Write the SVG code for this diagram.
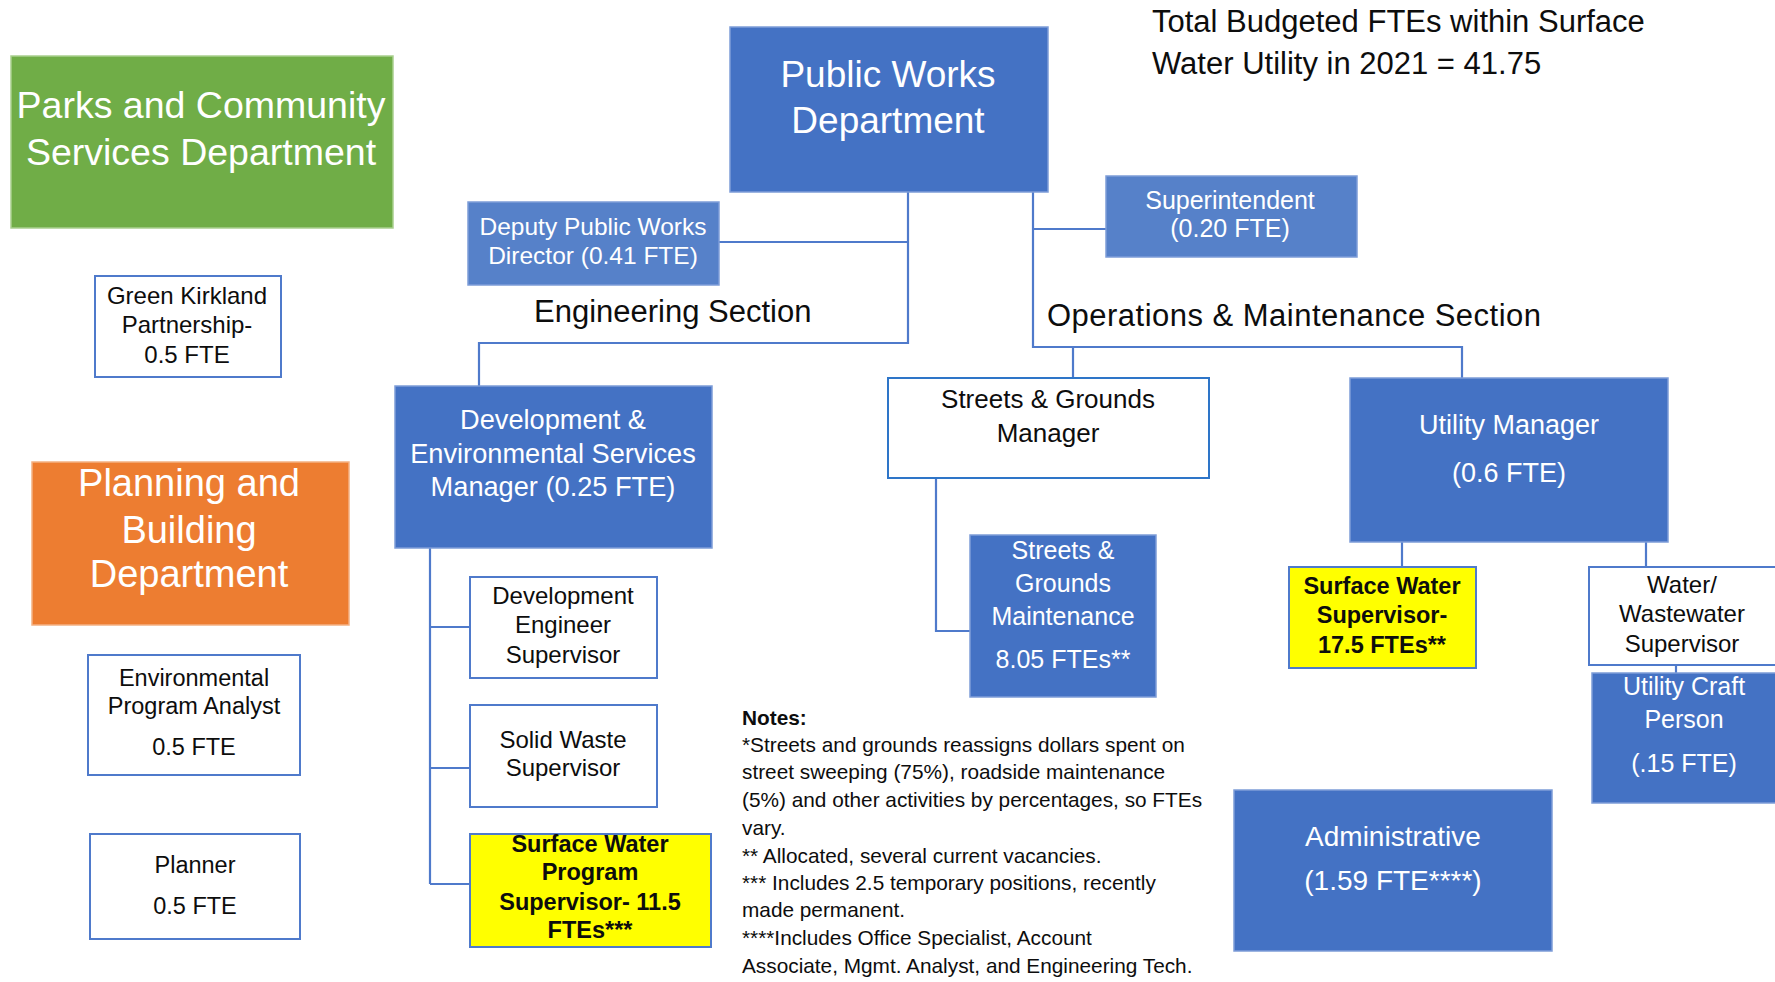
<svg xmlns="http://www.w3.org/2000/svg" width="1775" height="982" viewBox="0 0 1775 982">
<style>
text{font-family:"Liberation Sans",Arial,sans-serif;}
.c{text-anchor:middle;}
.w{fill:#ffffff;}
.k{fill:#0d0d0d;}
.b{font-weight:bold;}
.blue{fill:#4472C4;stroke:#7E9DD8;stroke-width:1.5;}
.blue2{fill:#5681C9;stroke:#7E9DD8;stroke-width:1.5;}
.wht{fill:#ffffff;stroke:#4F7ACB;stroke-width:2;}
.yel{fill:#FFFF00;stroke:#4F7ACB;stroke-width:2;}
.con{fill:none;stroke:#4F7ACB;stroke-width:2.2;}
</style>
<rect width="1775" height="982" fill="#ffffff"/>
<g id="connectors">
<path class="con" d="M908,192 V343 H479 V386"/>
<path class="con" d="M719,242 H908"/>
<path class="con" d="M1033,192 V347 H1462 V378"/>
<path class="con" d="M1033,229 H1106"/>
<path class="con" d="M1073,347 V378"/>
<path class="con" d="M430,548 V884"/>
<path class="con" d="M430,627 H470 M430,768 H470 M430,884 H470"/>
<path class="con" d="M936,478 V631 H970"/>
<path class="con" d="M1402,542 V567 M1646,542 V567"/>
<path class="con" d="M1676,665 V673"/>
</g>
<g id="parks">
<rect x="11" y="56" width="382" height="172" fill="#70AD47" stroke="#A9D08E" stroke-width="1.5"/>
<text class="c w" x="201" y="118" font-size="37.5">Parks and Community</text>
<text class="c w" x="201" y="165" font-size="37.5">Services  Department</text>
</g>
<g id="green-kirkland">
<rect class="wht" x="95" y="276" width="186" height="101"/>
<text class="c k" x="187" y="304" font-size="24">Green Kirkland</text>
<text class="c k" x="187" y="333" font-size="24">Partnership-</text>
<text class="c k" x="187" y="363" font-size="24">0.5 FTE</text>
</g>
<g id="planning">
<rect x="32" y="462" width="317" height="163" fill="#ED7D31" stroke="#F4B183" stroke-width="1.5"/>
<text class="c w" x="189" y="496" font-size="38">Planning and</text>
<text class="c w" x="189" y="543" font-size="38">Building</text>
<text class="c w" x="189" y="587" font-size="38">Department</text>
</g>
<g id="env-analyst">
<rect class="wht" x="88" y="655" width="212" height="120"/>
<text class="c k" x="194" y="686" font-size="23.5">Environmental</text>
<text class="c k" x="194" y="714" font-size="23.5">Program Analyst</text>
<text class="c k" x="194" y="755" font-size="23.5">0.5 FTE</text>
</g>
<g id="planner">
<rect class="wht" x="90" y="834" width="210" height="105"/>
<text class="c k" x="195" y="873" font-size="23.5">Planner</text>
<text class="c k" x="195" y="914" font-size="23.5">0.5 FTE</text>
</g>
<g id="public-works">
<rect class="blue" x="730" y="27" width="318" height="165"/>
<text class="c w" x="888" y="87" font-size="37">Public Works</text>
<text class="c w" x="888" y="133" font-size="37">Department</text>
</g>
<g id="title">
<text class="k" x="1152" y="32" font-size="31">Total Budgeted FTEs within Surface</text>
<text class="k" x="1152" y="74" font-size="31">Water Utility in 2021 = 41.75</text>
</g>
<g id="deputy">
<rect class="blue2" x="468" y="202" width="251" height="83"/>
<text class="c w" x="593" y="235" font-size="24.5">Deputy Public Works</text>
<text class="c w" x="593" y="264" font-size="24.5">Director (0.41 FTE)</text>
</g>
<g id="superintendent">
<rect class="blue2" x="1106" y="176" width="251" height="81"/>
<text class="c w" x="1230" y="209" font-size="25">Superintendent</text>
<text class="c w" x="1230" y="237" font-size="25">(0.20 FTE)</text>
</g>
<g id="engineering-section">
<text class="k" x="534" y="322" font-size="31">Engineering Section</text>
</g>
<g id="operations-section">
<text class="k" x="1047" y="326" font-size="31" textLength="494" lengthAdjust="spacing">Operations &amp; Maintenance Section</text>
</g>
<g id="dev-env-manager">
<rect class="blue" x="395" y="386" width="317" height="162"/>
<text class="c w" x="553" y="429" font-size="27.2">Development  &amp;</text>
<text class="c w" x="553" y="463" font-size="27.2">Environmental  Services</text>
<text class="c w" x="553" y="496" font-size="27.2">Manager (0.25 FTE)</text>
</g>
<g id="dev-eng-supervisor">
<rect class="wht" x="470" y="577" width="187" height="101"/>
<text class="c k" x="563" y="604" font-size="24">Development</text>
<text class="c k" x="563" y="633" font-size="24">Engineer</text>
<text class="c k" x="563" y="663" font-size="24">Supervisor</text>
</g>
<g id="solid-waste">
<rect class="wht" x="470" y="705" width="187" height="102"/>
<text class="c k" x="563" y="748" font-size="24">Solid Waste</text>
<text class="c k" x="563" y="776" font-size="24">Supervisor</text>
</g>
<g id="sw-program-supervisor">
<rect class="yel" x="470" y="834" width="241" height="113"/>
<text class="c k b" x="590" y="852" font-size="23.5">Surface Water</text>
<text class="c k b" x="590" y="880" font-size="23.5">Program</text>
<text class="c k b" x="590" y="910" font-size="23.5">Supervisor- 11.5</text>
<text class="c k b" x="590" y="938" font-size="23.5">FTEs***</text>
</g>
<g id="streets-grounds-manager">
<rect x="888" y="378" width="321" height="100" fill="#ffffff" stroke="#2E75C8" stroke-width="2"/>
<text class="c k" x="1048" y="408" font-size="26">Streets  &amp; Grounds</text>
<text class="c k" x="1048" y="442" font-size="26">Manager</text>
</g>
<g id="streets-grounds-maintenance">
<rect class="blue" x="970" y="535" width="186" height="162"/>
<text class="c w" x="1063" y="559" font-size="25">Streets &amp;</text>
<text class="c w" x="1063" y="592" font-size="25">Grounds</text>
<text class="c w" x="1063" y="625" font-size="25">Maintenance</text>
<text class="c w" x="1063" y="668" font-size="25">8.05 FTEs**</text>
</g>
<g id="utility-manager">
<rect class="blue" x="1350" y="378" width="318" height="164"/>
<text class="c w" x="1509" y="434" font-size="27">Utility Manager</text>
<text class="c w" x="1509" y="482" font-size="27">(0.6 FTE)</text>
</g>
<g id="surface-water-supervisor">
<rect class="yel" x="1289" y="567" width="187" height="101"/>
<text class="c k b" x="1382" y="594" font-size="23.5">Surface Water</text>
<text class="c k b" x="1382" y="623" font-size="23.5">Supervisor-</text>
<text class="c k b" x="1382" y="653" font-size="23.5">17.5 FTEs**</text>
</g>
<g id="water-wastewater-supervisor">
<rect class="wht" x="1589" y="567" width="190" height="98"/>
<text class="c k" x="1682" y="593" font-size="24">Water/</text>
<text class="c k" x="1682" y="622" font-size="24">Wastewater</text>
<text class="c k" x="1682" y="652" font-size="24">Supervisor</text>
</g>
<g id="utility-craft-person">
<rect class="blue" x="1592" y="673" width="188" height="130"/>
<text class="c w" x="1684" y="695" font-size="25">Utility Craft</text>
<text class="c w" x="1684" y="728" font-size="25">Person</text>
<text class="c w" x="1684" y="772" font-size="25">(.15 FTE)</text>
</g>
<g id="administrative">
<rect class="blue" x="1234" y="790" width="318" height="161"/>
<text class="c w" x="1393" y="846" font-size="28">Administrative</text>
<text class="c w" x="1393" y="890" font-size="28">(1.59 FTE****)</text>
</g>
<g id="notes">
<text class="k b" x="742" y="725" font-size="20.8">Notes:</text>
<text class="k" x="742" y="752" font-size="20.8">*Streets and grounds reassigns dollars spent on</text>
<text class="k" x="742" y="779" font-size="20.8">street sweeping (75%), roadside maintenance</text>
<text class="k" x="742" y="807" font-size="20.8">(5%) and other activities by percentages, so FTEs</text>
<text class="k" x="742" y="835" font-size="20.8">vary.</text>
<text class="k" x="742" y="863" font-size="20.8">** Allocated, several current vacancies.</text>
<text class="k" x="742" y="890" font-size="20.8">*** Includes 2.5 temporary positions, recently</text>
<text class="k" x="742" y="917" font-size="20.8">made permanent.</text>
<text class="k" x="742" y="945" font-size="20.8">****Includes Office Specialist, Account</text>
<text class="k" x="742" y="973" font-size="20.8">Associate, Mgmt. Analyst, and Engineering Tech.</text>
</g>
</svg>
